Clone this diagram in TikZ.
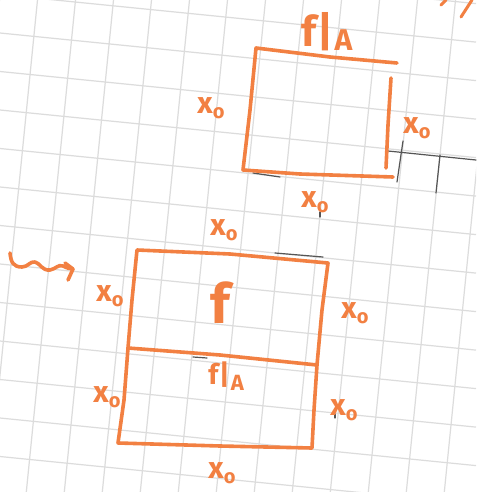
\documentclass[tikz,border=0pt]{standalone}
\usepackage{fontspec}
\setmainfont{Fira Sans}
\definecolor{pen}{RGB}{242,128,66}
\definecolor{gridc}{RGB}{220,220,220}
\definecolor{dark}{RGB}{85,85,85}
\newcommand{\xsub}{{\fontsize{30}{30}\selectfont x\raisebox{-0.3ex}{\fontsize{20}{20}\selectfont o}}}
\tikzset{
  penline/.style={draw=pen, line width=3.6pt, line cap=round, line join=round},
  gridline/.style={draw=gridc, line width=1.2pt},
  darkline/.style={draw=dark, line width=1.2pt, line cap=round},
  lbl/.style={text=pen, inner sep=0pt, font=\bfseries\fontsize{30}{30}\selectfont}
}
\begin{document}
\begin{tikzpicture}[x=1pt,y=-1pt]
\useasboundingbox (0,0) rectangle (476,492);
\fill[white] (0,0) rectangle (476,492);
\begin{scope}
\clip (0,0) rectangle (476,492);
\foreach \k in {-2,...,14} {
  \draw[gridline] (0,{33+38.5*\k}) -- (476,{33+38.5*\k+47.6});
}
\foreach \j in {-1,...,14} {
  \draw[gridline] ({37.5+38*\j},0) -- ({37.5+38*\j-49.2},492);
}
\end{scope}
% dark grid marks
\draw[darkline] (388,151) -- (476,160);
\draw[darkline] (403,141) -- (397,182);
\draw[darkline] (440,155) -- (436,193);
\draw[darkline] (253,173) -- (280,177);
\draw[darkline] (275,253) -- (323,257);
\draw[darkline] (193,357) -- (207,358);
\draw[darkline] (320,212) -- (320,217);
\draw[darkline] (335,414) -- (335,418);
% top box
\draw[penline] (397,63) -- (330,57) -- (256,48) -- (250,110) -- (243,170) -- (300,174) -- (393,177);
\draw[penline] (391,78) -- (388,125) -- (386,168);
% top right marks
\draw[penline, line width=3pt] (446,0) -- (441,5);
\draw[penline, line width=3pt] (472,0) -- (461,17);
% top labels
\node[lbl] (fa1) at (327,32) {\fontsize{42}{42}\selectfont f\kern1pt|\kern1pt\raisebox{-0.15ex}{\fontsize{30}{30}\selectfont A}};
\node[lbl] (t1) at (211,108) {\xsub};
\node[lbl] (t2) at (417,128) {\xsub};
\node[lbl] (t3) at (315,202) {\xsub};
% wiggly arrow
\draw[penline] (10,253) .. controls (11,262) and (13,267) .. (22,267)
  .. controls (28,267) and (30,261) .. (35,262)
  .. controls (40,263) and (42,271) .. (50,270)
  .. controls (56,269) and (58,264) .. (63,266)
  .. controls (67,268) and (70,269) .. (73,269);
\draw[penline] (65,263) -- (73,269) -- (68,280);
% bottom box
\draw[penline] (137,250) -- (230,254) -- (328,263) -- (322,310) -- (317,365) -- (314,410) -- (312,448)
  -- (220,446) -- (118,443) -- (124,400) -- (128,348) -- (132,300) -- cycle;
\draw[penline] (128,348) -- (220,355) -- (317,365);
% bottom labels
\node[lbl] (b0) at (224,230) {\xsub};
\node[lbl] (b1) at (110,296) {\xsub};
\node[lbl] (bf) at (220,303) {\fontsize{55}{55}\selectfont f};
\node[lbl] (b2) at (355,313) {\xsub};
\node[lbl] (fa2) at (226,376) {\fontsize{28}{28}\selectfont f\kern1pt|\kern1pt\raisebox{-0.4ex}{\fontsize{22}{22}\selectfont A}};
\node[lbl] (b3) at (107,397) {\xsub};
\node[lbl] (b4) at (344,410) {\xsub};
\node[lbl] (b5) at (222,473) {\xsub};
\end{tikzpicture}
\end{document}
